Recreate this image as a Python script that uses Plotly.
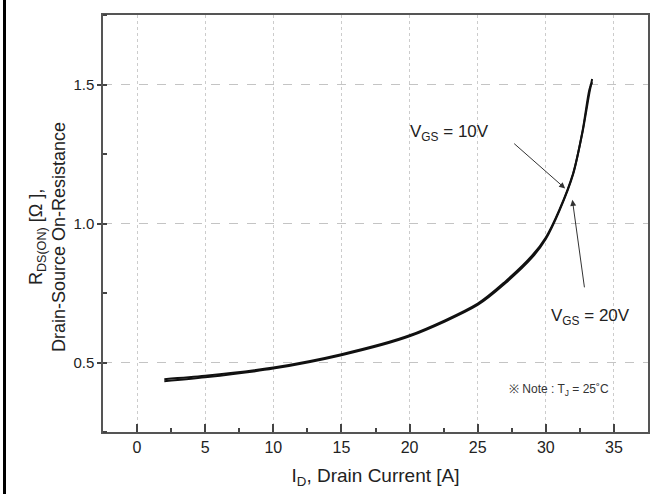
import plotly.graph_objects as go

# ---- data ----
drain_current = [2, 5, 10, 15, 20, 25, 27, 29, 30, 31, 32, 32.7, 33.2, 33.4]
rds_vgs10 = [0.440, 0.452, 0.482, 0.530, 0.598, 0.712, 0.790, 0.885, 0.950, 1.050, 1.180, 1.330, 1.470, 1.520]
rds_vgs20 = [0.433, 0.447, 0.478, 0.526, 0.594, 0.707, 0.784, 0.878, 0.944, 1.046, 1.176, 1.334, 1.482, 1.508]

x_ticks = [0, 5, 10, 15, 20, 25, 30, 35]
y_ticks = [0.5, 1.0, 1.5]
y_tick_labels = ["0.5", "1.0", "1.5"]

FONT = "Liberation Sans Narrow, Arial Narrow, Liberation Sans, Arial, sans-serif"
W, H = 672, 494
ML, MR, MT, MB = 103, 24, 15, 62
PW, PH = W - ML - MR, H - MT - MB

fig = go.Figure()
for ys in (rds_vgs10, rds_vgs20):
    fig.add_trace(go.Scatter(
        x=drain_current, y=ys, mode="lines",
        line=dict(color="#111111", width=2, shape="spline", smoothing=0.8),
        showlegend=False, hoverinfo="skip"))

# arrows
fig.add_annotation(x=31.42, y=1.126, ax=27.57, ay=1.292, xref="x", yref="y",
                   axref="x", ayref="y", text="", showarrow=True,
                   arrowhead=2, arrowsize=1.2, arrowwidth=1, arrowcolor="#333333")
fig.add_annotation(x=31.95, y=1.085, ax=32.85, ay=0.765, xref="x", yref="y",
                   axref="x", ayref="y", text="", showarrow=True,
                   arrowhead=2, arrowsize=1.2, arrowwidth=1, arrowcolor="#333333")
# labels
fig.add_annotation(x=22.96, y=1.327, xref="x", yref="y", text="V<sub>GS</sub> = 10V",
                   showarrow=False, font=dict(family=FONT, size=17, color="#222222"))
fig.add_annotation(x=33.3, y=0.665, xref="x", yref="y", text="V<sub>GS</sub> = 20V",
                   showarrow=False, font=dict(family=FONT, size=17, color="#222222"))
fig.add_annotation(x=31.0, y=0.40, xref="x", yref="y", text="※ Note : T<sub>J</sub> = 25˚C",
                   showarrow=False, font=dict(family=FONT, size=12, color="#333333"))

# y-axis title as a rotated annotation (placed slightly below plot centre as in reference)
fig.add_annotation(x=(47 - ML) / PW, y=1 - (237 - MT) / PH, xref="paper", yref="paper",
                   text="R<sub>DS(ON)</sub> [Ω ],<br>Drain-Source On-Resistance",
                   textangle=-90, showarrow=False, xanchor="center", yanchor="middle",
                   font=dict(family=FONT, size=18, color="#222222"))

# left black frame line
fig.add_shape(type="line", xref="paper", yref="paper",
              x0=(4.5 - ML) / PW, x1=(4.5 - ML) / PW,
              y0=-MB / PH, y1=1 + MT / PH,
              line=dict(color="black", width=3))

axis_line = dict(showline=True, linecolor="#555555", linewidth=1.5, mirror=True, zeroline=False)

fig.update_xaxes(
    range=[-2.5, 37.5], tickmode="array", tickvals=x_ticks,
    ticks="inside", ticklen=8, tickwidth=1.5, tickcolor="#444444",
    showgrid=True, gridcolor="#cccccc", griddash="dot", gridwidth=1,
    minor=dict(dtick=2.5, tick0=0, ticks="inside", ticklen=4, tickcolor="#444444", showgrid=False),
    tickfont=dict(family=FONT, size=16, color="#222222"),
    title=dict(text="I<sub>D</sub>, Drain Current [A]", font=dict(family=FONT, size=19, color="#222222"), standoff=14),
    **axis_line)

fig.update_yaxes(
    range=[0.25, 1.75], tickmode="array", tickvals=y_ticks, ticktext=y_tick_labels,
    ticks="outside", ticklen=4, tickwidth=1.5, tickcolor="#444444",
    showgrid=True, gridcolor="#c4c4c4", griddash="dash", gridwidth=1,
    minor=dict(dtick=0.25, tick0=0.25, ticks="inside", ticklen=4, tickcolor="#444444", showgrid=False),
    tickfont=dict(family=FONT, size=15, color="#222222"),
    **axis_line)

fig.update_layout(
    width=W, height=H,
    margin=dict(l=ML, r=MR, t=MT, b=MB),
    paper_bgcolor="white", plot_bgcolor="white",
    showlegend=False,
)

fig.write_html("out.html")
